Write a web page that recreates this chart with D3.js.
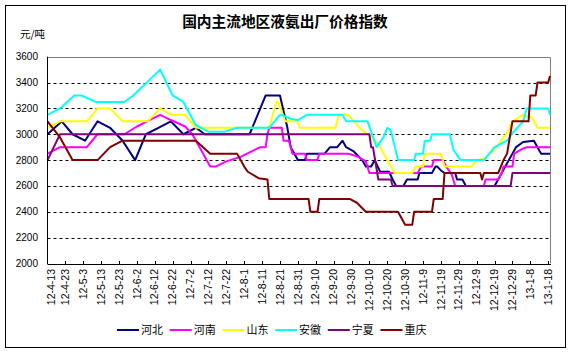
<!DOCTYPE html>
<html>
<head>
<meta charset="utf-8">
<script src="https://cdn.jsdelivr.net/npm/d3@7"></script>
<style>
  body { margin: 0; background: #fff; }
  svg { display: block; }
  text { font-family: "Liberation Sans", Arial, sans-serif; }
  .cjk { font-family: "Noto Sans CJK SC", sans-serif; }
</style>
</head>
<body>
<div id="chart"></div>
<script>
// series names and colours, in drawing order
const seriesNames = ['河北', '河南', '山东', '安徽', '宁夏', '重庆'];
const seriesColors = ['#000080', '#ff00ff', '#ffff00', '#00ffff', '#800080', '#800000'];

const tickLabels = ['12-4-13', '12-4-23', '12-5-3', '12-5-13', '12-5-23', '12-6-2', '12-6-12',
  '12-6-22', '12-7-2', '12-7-12', '12-7-22', '12-8-1', '12-8-11', '12-8-21', '12-8-31',
  '12-9-10', '12-9-20', '12-9-30', '12-10-10', '12-10-20', '12-10-30', '12-11-9',
  '12-11-19', '12-11-29', '12-12-9', '12-12-19', '12-12-29', '13-1-8', '13-1-18'];

const yTicks = [2000, 2200, 2400, 2600, 2800, 3000, 3200, 3400, 3600];

// price points [date, yuan/ton]
const hebei = [['2012-04-13', 3000], ['2012-04-21', 3100], ['2012-04-27', 3000], ['2012-05-04', 2950],
  ['2012-05-11', 3100], ['2012-05-18', 3050], ['2012-05-25', 2950], ['2012-06-01', 2800],
  ['2012-06-07', 3000], ['2012-06-14', 3050], ['2012-06-21', 3100], ['2012-06-28', 3000],
  ['2012-07-05', 3050], ['2012-07-10', 3000], ['2012-08-04', 3000], ['2012-08-10', 3200],
  ['2012-08-13', 3300], ['2012-08-21', 3300], ['2012-08-22', 3240], ['2012-08-25', 3060],
  ['2012-08-27', 2900], ['2012-08-31', 2800], ['2012-09-04', 2800], ['2012-09-05', 2850],
  ['2012-09-15', 2850], ['2012-09-18', 2900], ['2012-09-22', 2900], ['2012-09-25', 2950],
  ['2012-09-27', 2900], ['2012-10-01', 2870], ['2012-10-06', 2800], ['2012-10-08', 2750],
  ['2012-10-11', 2750], ['2012-10-13', 2800], ['2012-10-16', 2710], ['2012-10-21', 2710],
  ['2012-10-23', 2650], ['2012-10-25', 2600], ['2012-10-29', 2600], ['2012-10-31', 2650],
  ['2012-11-06', 2650], ['2012-11-07', 2700], ['2012-11-14', 2700], ['2012-11-16', 2750],
  ['2012-11-17', 2750], ['2012-11-19', 2720], ['2012-11-21', 2700], ['2012-11-27', 2700],
  ['2012-11-28', 2650], ['2012-12-01', 2650], ['2012-12-03', 2600], ['2012-12-19', 2600],
  ['2012-12-21', 2650], ['2012-12-25', 2750], ['2012-12-29', 2850], ['2012-12-31', 2900],
  ['2013-01-04', 2940], ['2013-01-10', 2950], ['2013-01-12', 2900], ['2013-01-14', 2850],
  ['2013-01-19', 2850]];

const henan = [['2012-04-13', 2850], ['2012-04-20', 2900], ['2012-05-05', 2900], ['2012-05-11', 3000],
  ['2012-05-26', 3000], ['2012-06-02', 3060], ['2012-06-09', 3110], ['2012-06-15', 3150],
  ['2012-06-21', 3110], ['2012-06-29', 3060], ['2012-07-03', 3000], ['2012-07-13', 2750],
  ['2012-07-16', 2750], ['2012-07-22', 2790], ['2012-07-30', 2825], ['2012-08-04', 2860],
  ['2012-08-10', 2900], ['2012-08-13', 2900], ['2012-08-14', 3000], ['2012-08-15', 3050],
  ['2012-08-22', 3050], ['2012-08-23', 2950], ['2012-08-26', 2950], ['2012-08-28', 2850],
  ['2012-09-04', 2850], ['2012-09-05', 2800], ['2012-09-11', 2800], ['2012-09-12', 2850],
  ['2012-09-28', 2850], ['2012-10-03', 2830], ['2012-10-08', 2790], ['2012-10-10', 2700],
  ['2012-11-06', 2700], ['2012-11-08', 2750], ['2012-11-14', 2750], ['2012-11-15', 2800],
  ['2012-11-20', 2800], ['2012-11-22', 2750], ['2012-11-25', 2690], ['2012-11-27', 2600],
  ['2012-12-13', 2600], ['2012-12-14', 2650], ['2012-12-21', 2650], ['2012-12-23', 2700],
  ['2012-12-24', 2750], ['2012-12-29', 2750], ['2012-12-30', 2850], ['2013-01-04', 2890],
  ['2013-01-06', 2900], ['2013-01-19', 2900]];

const shandong = [['2012-04-13', 3050], ['2012-04-20', 3100], ['2012-05-05', 3100], ['2012-05-11', 3200],
  ['2012-05-18', 3200], ['2012-05-25', 3100], ['2012-06-08', 3100], ['2012-06-15', 3200],
  ['2012-06-21', 3150], ['2012-06-29', 3150], ['2012-07-05', 3050], ['2012-08-15', 3050],
  ['2012-08-19', 3250], ['2012-08-20', 3250], ['2012-08-24', 3100], ['2012-08-31', 3100],
  ['2012-09-01', 3050], ['2012-09-21', 3050], ['2012-09-23', 3150], ['2012-09-28', 3150],
  ['2012-10-06', 3030], ['2012-10-12', 2970], ['2012-10-16', 2900], ['2012-10-20', 2800],
  ['2012-10-24', 2700], ['2012-11-03', 2700], ['2012-11-05', 2750], ['2012-11-09', 2750],
  ['2012-11-10', 2850], ['2012-11-19', 2850], ['2012-11-21', 2750], ['2012-12-06', 2750],
  ['2012-12-09', 2800], ['2012-12-14', 2815], ['2012-12-20', 2900], ['2012-12-26', 3010],
  ['2012-12-29', 3100], ['2013-01-04', 3150], ['2013-01-09', 3130], ['2013-01-12', 3050],
  ['2013-01-19', 3050]];

const anhui = [['2012-04-13', 3150], ['2012-04-20', 3200], ['2012-04-28', 3300], ['2012-05-02', 3300],
  ['2012-05-10', 3250], ['2012-05-26', 3250], ['2012-05-31', 3300], ['2012-06-15', 3500],
  ['2012-06-22', 3300], ['2012-06-28', 3250], ['2012-07-05', 3070], ['2012-07-12', 3020],
  ['2012-07-21', 3020], ['2012-07-28', 3050], ['2012-08-15', 3050], ['2012-08-21', 3150],
  ['2012-08-22', 3150], ['2012-08-27', 3120], ['2012-08-31', 3110], ['2012-09-05', 3150],
  ['2012-09-25', 3150], ['2012-09-27', 3100], ['2012-10-09', 3100], ['2012-10-12', 2980],
  ['2012-10-14', 2900], ['2012-10-18', 2980], ['2012-10-20', 3050], ['2012-10-22', 3030],
  ['2012-10-26', 2800], ['2012-11-04', 2800], ['2012-11-05', 2850], ['2012-11-09', 2850],
  ['2012-11-10', 2950], ['2012-11-13', 2950], ['2012-11-14', 3000], ['2012-11-24', 3000],
  ['2012-11-26', 2880], ['2012-11-30', 2800], ['2012-12-13', 2800], ['2012-12-19', 2900],
  ['2012-12-26', 2950], ['2012-12-29', 3010], ['2013-01-04', 3100], ['2013-01-06', 3200],
  ['2013-01-18', 3200], ['2013-01-19', 3150]];

const ningxia = [['2012-04-13', 2800], ['2012-04-20', 3000], ['2012-10-10', 3000], ['2012-10-11', 2900],
  ['2012-10-12', 2900], ['2012-10-15', 2650], ['2012-10-22', 2650], ['2012-10-23', 2600],
  ['2012-12-28', 2600], ['2012-12-29', 2700], ['2013-01-19', 2700]];

const chongqing = [['2012-04-13', 3100], ['2012-04-20', 2975], ['2012-04-27', 2800], ['2012-05-11', 2800],
  ['2012-05-18', 2900], ['2012-05-25', 2950], ['2012-07-05', 2950], ['2012-07-13', 2850],
  ['2012-07-28', 2850], ['2012-08-01', 2750], ['2012-08-03', 2710], ['2012-08-09', 2660],
  ['2012-08-14', 2650], ['2012-08-15', 2500], ['2012-09-06', 2500], ['2012-09-07', 2400],
  ['2012-09-11', 2400], ['2012-09-12', 2500], ['2012-09-29', 2500], ['2012-10-03', 2470],
  ['2012-10-08', 2400], ['2012-10-26', 2400], ['2012-10-30', 2300], ['2012-11-03', 2300],
  ['2012-11-04', 2400], ['2012-11-14', 2400], ['2012-11-15', 2500], ['2012-11-20', 2500],
  ['2012-11-21', 2700], ['2012-12-11', 2700], ['2012-12-12', 2650], ['2012-12-13', 2700],
  ['2012-12-21', 2700], ['2012-12-24', 2800], ['2012-12-26', 2850], ['2012-12-29', 3100],
  ['2013-01-07', 3100], ['2013-01-08', 3300], ['2013-01-11', 3300], ['2013-01-12', 3400],
  ['2013-01-18', 3400], ['2013-01-19', 3450]];

const seriesData = [hebei, henan, shandong, anhui, ningxia, chongqing];

const width = 573, height = 353;
const plot = { left: 47.5, right: 550, top: 56.7, bottom: 263.5 };

const parseDay = d3.utcParse('%Y-%m-%d');
const parseLabel = d3.utcParse('%y-%m-%d');

const x = d3.scaleUtc()
  .domain([parseDay('2012-04-13'), parseDay('2013-01-19')])
  .range([plot.left, plot.right]);

const y = d3.scaleLinear()
  .domain([2000, 3600])
  .range([plot.bottom, plot.top]);

const svg = d3.select('#chart')
  .append('svg')
  .attr('width', width)
  .attr('height', height);

// outer frame
svg.append('rect')
  .attr('x', 5.5).attr('y', 5.5)
  .attr('width', 560).attr('height', 342)
  .attr('fill', '#fff')
  .attr('stroke', '#000')
  .attr('stroke-width', 1);

// title and unit
svg.append('text')
  .attr('class', 'cjk')
  .attr('x', 285)
  .attr('y', 27)
  .attr('text-anchor', 'middle')
  .style('font-size', '14.7px')
  .style('font-weight', 'bold')
  .text('国内主流地区液氨出厂价格指数');

svg.append('text')
  .attr('class', 'cjk')
  .attr('x', 20)
  .attr('y', 38)
  .style('font-size', '10.5px')
  .text('元/吨');

// gridlines
svg.append('g')
  .selectAll('line')
  .data(yTicks.filter((d) => d > 2000 && d < 3600))
  .join('line')
  .attr('x1', plot.left)
  .attr('x2', plot.right)
  .attr('y1', (d) => Math.round(y(d)) + 0.5)
  .attr('y2', (d) => Math.round(y(d)) + 0.5)
  .attr('stroke', '#000')
  .attr('stroke-dasharray', '3,3');

// top / right border of the plot
svg.append('path')
  .attr('d', `M${plot.left},${Math.round(plot.top) + 0.5}H${plot.right + 0.5}V${plot.bottom}`)
  .attr('fill', 'none')
  .attr('stroke', '#808080');

// y labels
svg.append('g')
  .selectAll('text')
  .data(yTicks)
  .join('text')
  .attr('x', 38)
  .attr('y', (d) => y(d) + 3.5)
  .attr('text-anchor', 'end')
  .style('font-size', '10px')
  .text((d) => d);

// lines
const line = d3.line()
  .x((d) => x(parseDay(d[0])))
  .y((d) => y(d[1]));

svg.append('g')
  .selectAll('path')
  .data(seriesData)
  .join('path')
  .attr('d', line)
  .attr('fill', 'none')
  .attr('stroke', (d, i) => seriesColors[i])
  .attr('stroke-width', 2)
  .attr('stroke-linejoin', 'round');

// axes lines
svg.append('line')
  .attr('x1', Math.round(plot.left) - 0.5).attr('x2', Math.round(plot.left) - 0.5)
  .attr('y1', plot.top).attr('y2', plot.bottom + 0.5)
  .attr('stroke', '#000');

svg.append('line')
  .attr('x1', plot.left).attr('x2', plot.right + 1)
  .attr('y1', Math.round(plot.bottom) + 0.5).attr('y2', Math.round(plot.bottom) + 0.5)
  .attr('stroke', '#000');

// x ticks (inside) and labels
const xg = svg.append('g');
xg.selectAll('line')
  .data(tickLabels.slice(1))
  .join('line')
  .attr('x1', (d) => Math.round(x(parseLabel(d))) + 0.5)
  .attr('x2', (d) => Math.round(x(parseLabel(d))) + 0.5)
  .attr('y1', Math.round(plot.bottom))
  .attr('y2', Math.round(plot.bottom) - 3)
  .attr('stroke', '#000');

xg.selectAll('text')
  .data(tickLabels)
  .join('text')
  .attr('transform', (d, i) => {
    const px = x(parseLabel(d)) + (i === 0 ? 4 : 0);
    return `translate(${px},269) rotate(-90)`;
  })
  .attr('dy', '0.35em')
  .attr('text-anchor', 'end')
  .style('font-size', '10.5px')
  .text((d) => d);

// legend
const legend = svg.append('g')
  .selectAll('g')
  .data(seriesNames)
  .join('g')
  .attr('transform', (d, i) => `translate(${117 + i * 52.7},330)`);

legend.append('line')
  .attr('x1', 0).attr('x2', 22)
  .attr('stroke', (d, i) => seriesColors[i])
  .attr('stroke-width', 2);

legend.append('text')
  .attr('class', 'cjk')
  .attr('x', 24)
  .attr('y', 4)
  .style('font-size', '11px')
  .text((d) => d);
</script>
</body>
</html>
